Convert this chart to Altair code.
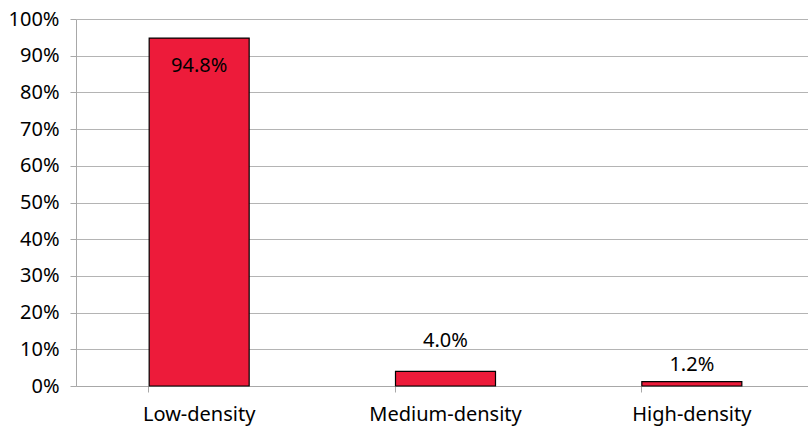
import altair as alt
import pandas as pd

# Share of housing by density class
categories = ["Low-density", "Medium-density", "High-density"]
shares = [94.8, 4.0, 1.2]
labels = ["94.8%", "4.0%", "1.2%"]
y_ticks = [0, 10, 20, 30, 40, 50, 60, 70, 80, 90, 100]

df = pd.DataFrame({"category": categories, "share": shares, "label": labels})

FONT = "Noto Sans"
BAR_RED = "#ED1B3A"

x_scale = alt.Scale(paddingInner=0.59, paddingOuter=0.295, range=[0, 739])
y_scale = alt.Scale(domain=[0, 100], nice=False)

x = alt.X(
    "category:N",
    sort=categories,
    title=None,
    scale=x_scale,
    axis=alt.Axis(
        labelAngle=0,
        labelFontSize=20,
        labelFont=FONT,
        labelColor="#000000",
        labelPadding=12,
        labelOverlap=False,
        bandPosition=0,
        tickSize=6,
        tickColor="#a8a8a8",
        domainColor="#a8a8a8",
        grid=False,
    ),
)
y = alt.Y(
    "share:Q",
    title=None,
    scale=y_scale,
    axis=alt.Axis(
        values=y_ticks,
        tickCount=11,
        labelExpr="datum.value + '%'",
        labelFontSize=20,
        labelFont=FONT,
        labelColor="#000000",
        labelPadding=11,
        labelOverlap=False,
        labelFlush=False,
        tickSize=6,
        tickColor="#a8a8a8",
        domainColor="#a8a8a8",
        gridColor="#b4b4b4",
        gridWidth=1,
    ),
)

bars = alt.Chart(df).mark_bar(
    color=BAR_RED, stroke="#000000", strokeWidth=1.2, size=100
).encode(x=x, y=y)

def value_text(name, dy):
    return (
        alt.Chart(df)
        .transform_filter(alt.datum.category == name)
        .mark_text(font=FONT, fontSize=20, color="#000000", dy=dy, baseline="middle")
        .encode(x=x, y=y, text="label:N")
    )

chart = (
    alt.layer(
        bars,
        value_text("Low-density", 28),
        value_text("Medium-density", -30),
        value_text("High-density", -17),
    )
    .properties(
        width=731,
        height=367,
        autosize=alt.AutoSizeParams(type="none"),
        padding={"left": 76, "top": 19, "right": 1, "bottom": 44},
    )
    .configure_view(stroke=None)
)

chart.save("out.html", embed_options={"renderer": "svg", "actions": False})
